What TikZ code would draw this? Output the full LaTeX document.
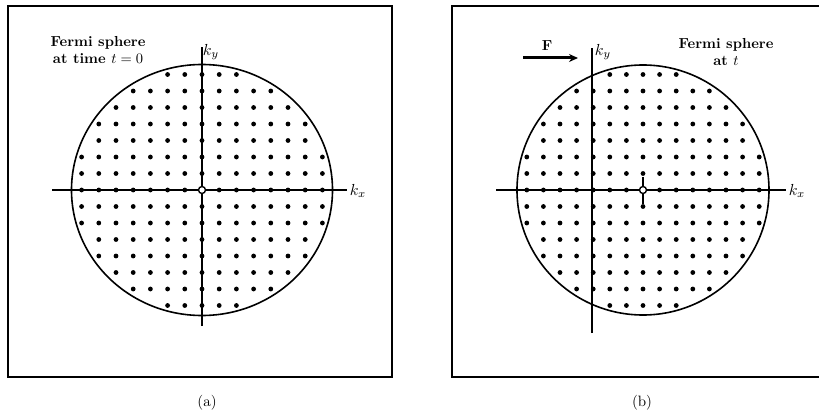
\documentclass[tikz,border=0pt]{standalone}
\usepackage{amsmath}
\usepackage{amssymb}
\usepackage{tikz}
\usetikzlibrary{arrows.meta}

\tikzset{
    panelframe/.style={line width=2.2pt},
    sphere/.style={line width=1.6pt},
    kaxis/.style={line width=1.6pt},
    heading/.style={font=\bfseries, align=center, scale=1.45, transform shape},
    klabel/.style={inner sep=0pt, scale=1.6, transform shape},
    caption/.style={inner sep=0pt, scale=1.5, transform shape},
    origin/.style={circle, draw, fill=white, inner sep=0pt, minimum size=7pt, line width=1.4pt},
}

\begin{document}
\begin{tikzpicture}[x=1pt, y=-1pt]
    \useasboundingbox (0,0) rectangle (819,414);
    \fill[white] (0,0) rectangle (819,414);

    % Panel (a): sphere at t = 0
    \draw[panelframe] (8,6) rectangle (392,377);
    \draw[sphere] (202,190) ellipse[x radius=130.5pt, y radius=125.5pt];
    \begin{scope}[shift={(202,190)}, x=17.2pt, y=-16.5pt]
        \foreach \i in {-7,...,7}
            \foreach \j in {-7,...,7} {
                \pgfmathtruncatemacro{\rsq}{\i*\i+\j*\j}
                \ifnum\rsq<58 \ifnum\rsq>0
                    \fill (\i,\j) circle[radius=2.4pt];
                \fi\fi
            }
    \end{scope}
    \coordinate (kxA0) at (52,190);
    \coordinate (kxA1) at (347,190);
    \coordinate (kyA0) at (202,326);
    \coordinate (kyA1) at (202,47);
    \draw[kaxis] (kxA0) -- (kxA1);
    \draw[kaxis] (kyA0) -- (kyA1);
    \node[origin] (originA) at (202,190) {};
    \node[klabel] (kxlabelA) at (358,191) {$k_x$};
    \node[klabel] (kylabelA) at (211,52) {$k_y$};
    \node[heading] (headA) at (98,50) {Fermi sphere\\at time $t = 0$};
    \node[caption] (capA) at (207,403) {(a)};

    % Panel (b): sphere displaced by the force
    \draw[panelframe] (819,6) -- (452,6) -- (452,377) -- (819,377);
    \draw[sphere] (643,190) ellipse[x radius=126pt, y radius=125pt];
    \begin{scope}[shift={(643,190)}, x=16.6pt, y=-16.5pt]
        \foreach \i in {-7,...,7}
            \foreach \j in {-7,...,7} {
                \pgfmathtruncatemacro{\rsq}{\i*\i+\j*\j}
                \ifnum\rsq<58 \ifnum\rsq>0
                    \fill (\i,\j) circle[radius=2.4pt];
                \fi\fi
            }
    \end{scope}
    \coordinate (kxB0) at (496,190);
    \coordinate (kxB1) at (786,190);
    \coordinate (kyB0) at (592,333);
    \coordinate (kyB1) at (592,48);
    \coordinate (tickB0) at (643,177);
    \coordinate (tickB1) at (643,204);
    \draw[kaxis] (kxB0) -- (kxB1);
    \draw[kaxis] (kyB0) -- (kyB1);
    \draw[kaxis] (tickB0) -- (tickB1);
    \node[origin] (originB) at (643,190) {};
    \node[klabel] (kxlabelB) at (797,191) {$k_x$};
    \node[klabel] (kylabelB) at (603,52) {$k_y$};
    \node[heading] (headB) at (726,52) {Fermi sphere\\at $t$};

    % Force
    \coordinate (forceB0) at (523,58);
    \coordinate (forceB1) at (578,58);
    \draw[line width=3pt, -{Stealth[length=9pt, width=8pt]}] (forceB0) -- (forceB1);
    \node[heading] (forcelabel) at (547,46) {F};
    \node[caption] (capB) at (642,403) {(b)};
\end{tikzpicture}
\end{document}
